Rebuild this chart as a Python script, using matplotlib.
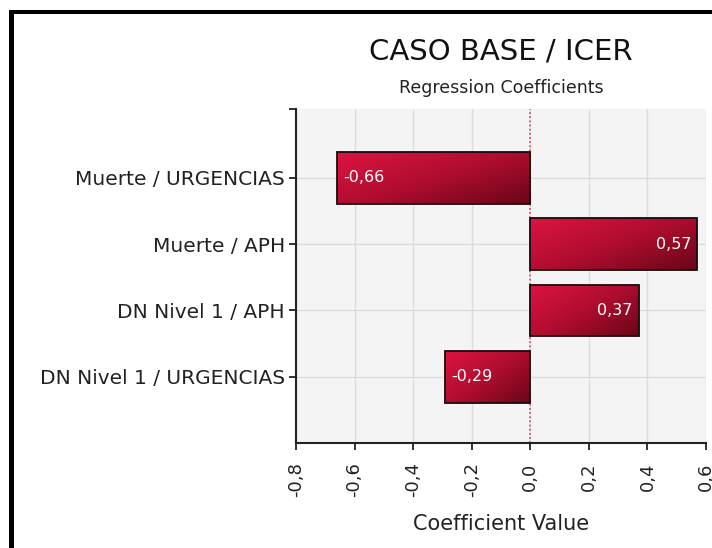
import matplotlib.pyplot as plt
import numpy as np
from matplotlib.colors import LinearSegmentedColormap
from matplotlib.lines import Line2D

# data (top to bottom)
categories = ["Muerte / URGENCIAS", "Muerte / APH", "DN Nivel 1 / APH", "DN Nivel 1 / URGENCIAS"]
coefficients = [-0.66, 0.57, 0.37, -0.29]
xticks = [-0.8, -0.6, -0.4, -0.2, 0.0, 0.2, 0.4, 0.6]

plt.rcParams['font.family'] = ['DejaVu Sans']

fig = plt.figure(figsize=(7.12, 5.48), dpi=100)
ax = fig.add_axes([296 / 712, 1 - 443 / 548, 410 / 712, 334 / 548])
ax.set_facecolor('#f4f4f4')

ypos = np.arange(len(categories))[::-1]
bars = ax.barh(ypos, coefficients, height=0.78, color='none', edgecolor='#1a0a0a',
               linewidth=1.3, zorder=3)

cmap = LinearSegmentedColormap.from_list('bar', ['#dc1440', '#b00d30', '#6a0618'])
gx, gy = np.meshgrid(np.linspace(0, 1, 200), np.linspace(0, 1, 60))
grad = 0.55 * gx + 0.45 * gy

for bar, val in zip(bars, coefficients):
    x0, y0 = bar.get_x(), bar.get_y()
    w, h = bar.get_width(), bar.get_height()
    # row 0 (bright) at top, column 0 (bright) at left
    im = ax.imshow(grad, cmap=cmap, extent=(min(x0, x0 + w), max(x0, x0 + w), y0, y0 + h),
                   origin='upper', aspect='auto', zorder=2, interpolation='bilinear')
    im.set_clip_path(bar)
    yc = y0 + h / 2
    label = f"{val:.2f}".replace('.', ',')
    if val < 0:
        ax.text(x0 + w + 0.02, yc, label, color='white', fontsize=11.5, ha='left', va='center', zorder=4)
    else:
        ax.text(x0 + w - 0.02, yc, label, color='white', fontsize=11.5, ha='right', va='center', zorder=4)

ax.axvline(0, color='#d0406a', linestyle=(0, (1, 1.5)), linewidth=1.2, zorder=2.5)

ax.set_xlim(-0.8, 0.6)
ax.set_ylim(-1.0, 4.04)
ax.set_xticks(xticks)
ax.set_xticklabels([f"{t:.1f}".replace('.', ',') for t in xticks], rotation=90, fontsize=13, color='#222222')
ax.set_yticks(ypos)
ax.set_yticklabels(categories, fontsize=14.5, color='#222222')
ax.set_yticks([4.04], minor=True)
ax.tick_params(axis='y', which='both', length=5, width=1.3, pad=3, color='#222222')
ax.tick_params(axis='x', length=5, width=1.3, pad=9, color='#222222')

ax.grid(True, color='#dcdcdc', linewidth=1, zorder=0)
ax.set_axisbelow(True)
for side in ['top', 'right']:
    ax.spines[side].set_visible(False)
for side in ['left', 'bottom']:
    ax.spines[side].set_linewidth(1.5)
    ax.spines[side].set_color('#222222')

ax.set_xlabel("Coefficient Value", fontsize=15, color='#222222', labelpad=12)

fig.text(501 / 712, 1 - 52 / 548, "CASO BASE / ICER", fontsize=21, ha='center', va='center', color='#111111')
fig.text(501 / 712, 1 - 88 / 548, "Regression Coefficients", fontsize=12.5, ha='center', va='center', color='#222222')

# outer frame
fig.add_artist(Line2D([10.5 / 712, 10.5 / 712], [0, 1 - 12 / 548], color='black', linewidth=3.6,
                      solid_capstyle='projecting', transform=fig.transFigure))
fig.add_artist(Line2D([10.5 / 712, 1], [1 - 12 / 548, 1 - 12 / 548], color='black', linewidth=2.9,
                      solid_capstyle='projecting', transform=fig.transFigure))

fig.savefig('out.png', dpi=100)
